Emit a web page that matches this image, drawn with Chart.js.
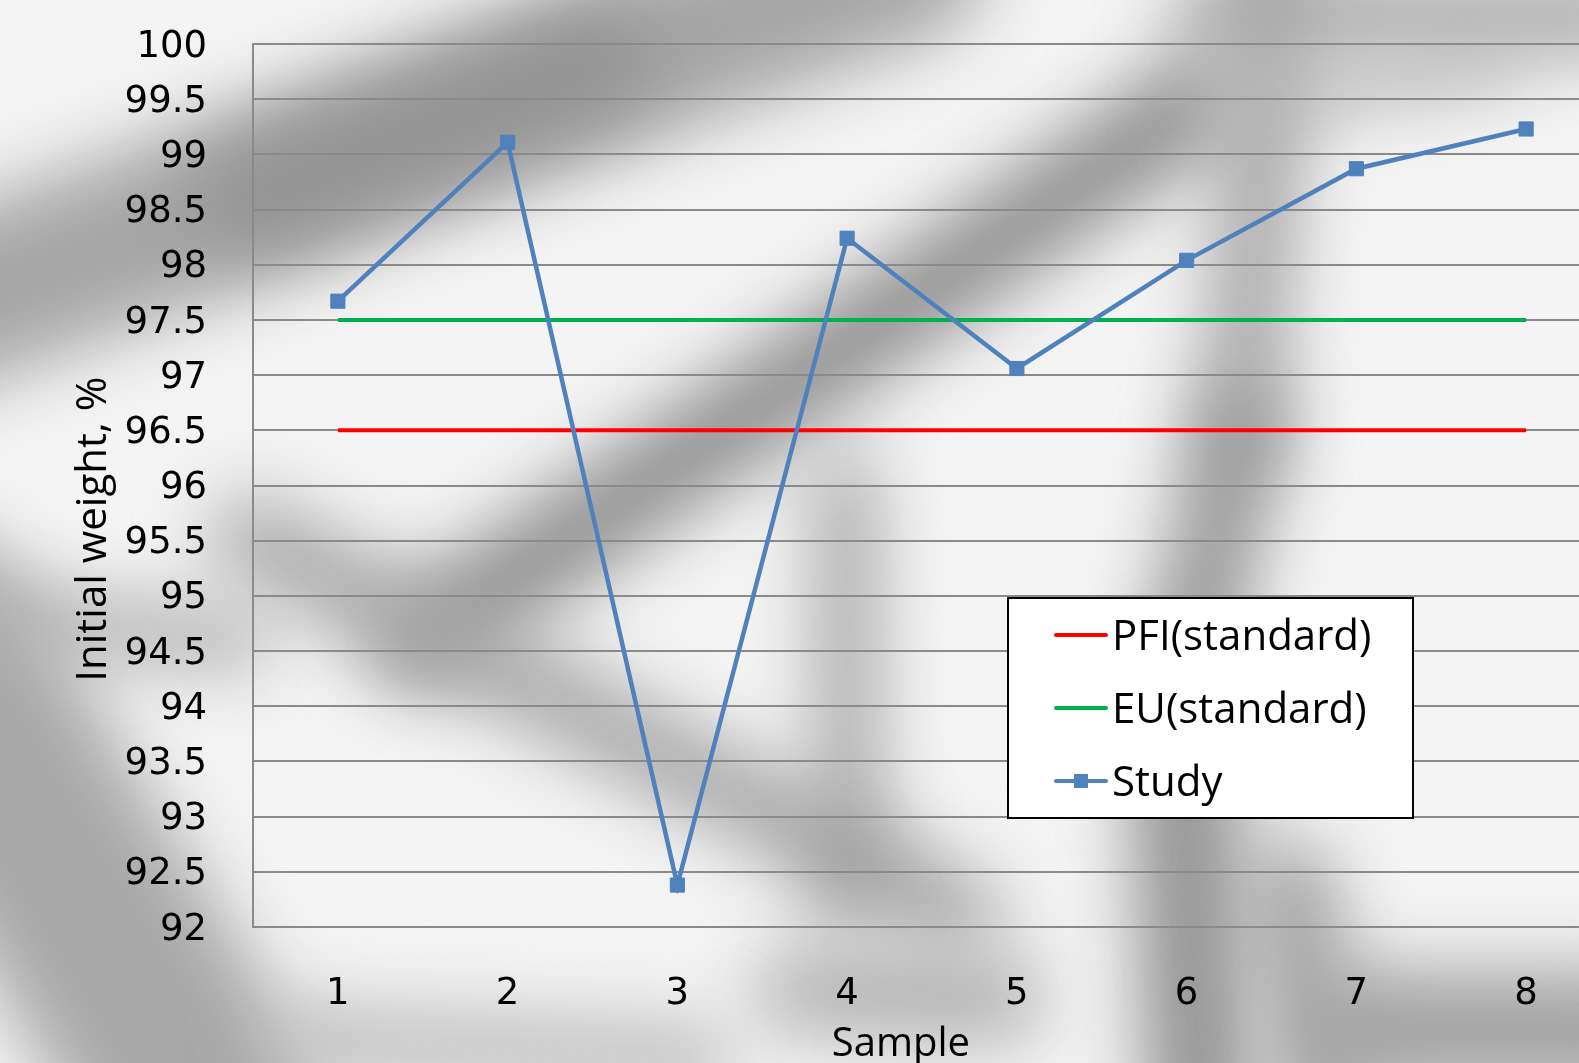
<!DOCTYPE html>
<html><head><meta charset="utf-8">
<script src="https://cdn.jsdelivr.net/npm/chart.js@4.4.1/dist/chart.umd.min.js"></script>
<style>
html,body{margin:0;padding:0;overflow:hidden;width:1579px;height:1063px;background:#eeeeee;}
#bg{position:absolute;left:0;top:0;}
#wrap{position:absolute;left:0;top:0;width:1640px;height:1063px;}
</style></head><body>
<canvas id="bg" width="1579" height="1063"></canvas>
<div id="wrap"><canvas id="c" width="1640" height="1063"></canvas></div>
<script>
// ---- data ----
const samples = ['1','2','3','4','5','6','7','8'];
const studyValues = [97.67, 99.11, 92.38, 98.24, 97.06, 98.04, 98.87, 99.23];
const pfiStandard = [96.5, 96.5, 96.5, 96.5, 96.5, 96.5, 96.5, 96.5];
const euStandard  = [97.5, 97.5, 97.5, 97.5, 97.5, 97.5, 97.5, 97.5];
const yTickValues = [92, 92.5, 93, 93.5, 94, 94.5, 95, 95.5, 96, 96.5, 97, 97.5, 98, 98.5, 99, 99.5, 100];
const seriesNames = ['PFI(standard)', 'EU(standard)', 'Study'];
const xTitle = 'Sample';
const yTitle = 'Initial weight, %';

// ---- blurred photographic-like background (decoration) ----
(function(){
  const g = document.getElementById('bg').getContext('2d');
  g.fillStyle = '#f4f4f4'; g.fillRect(0,0,1579,1063);
  g.filter = 'blur(36px)';
  function band(x1,y1,x2,y2,w,c){g.strokeStyle=c;g.lineWidth=w;g.lineCap='round';g.beginPath();g.moveTo(x1,y1);g.lineTo(x2,y2);g.stroke();}
  band(-120,330,900,-40,170,'#a6a6a6');
  band(250,200,600,60,110,'#939393');
  band(420,640,1200,100,95,'#909090');
  band(250,536,960,914,80,'#a6a6a6');
  band(1275,-40,1240,430,75,'#a2a2a2');
  band(1240,430,1180,700,85,'#939393');
  band(1180,700,1200,1100,105,'#909090');
  band(1290,880,1330,1100,80,'#9c9c9c');
  band(845,480,850,900,55,'#9c9c9c');
  band(-80,640,200,1100,230,'#a8a8a8');
  band(1360,1030,1620,1030,120,'#a2a2a2');
  band(1210,15,1620,15,75,'#a8a8a8');
  band(1210,110,1500,60,50,'#bababa');
  band(0,620,240,640,60,'#aeaeae');
  band(800,990,1000,1000,90,'#b2b2b2');
  band(300,1040,700,1060,70,'#bcbcbc');
})();

// ---- legend drawn inside plot ----
const boxLegend = {
  id: 'boxLegend',
  afterDraw(chart){
    const ctx = chart.ctx;
    const bx = 1008, by = 598, bw = 405, bh = 220;
    ctx.save();
    ctx.fillStyle = '#ffffff';
    ctx.fillRect(bx, by, bw, bh);
    ctx.strokeStyle = '#000000'; ctx.lineWidth = 2;
    ctx.strokeRect(bx, by, bw, bh);
    const rows = [635, 708, 781];
    [0,1,2].forEach((di, i) => {
      const ds = chart.data.datasets[di];
      const y = rows[i];
      ctx.strokeStyle = ds.borderColor; ctx.lineWidth = 4; ctx.lineCap = 'round';
      ctx.beginPath(); ctx.moveTo(1056, y); ctx.lineTo(1106, y); ctx.stroke();
      if (ds.pointRadius > 0) {
        ctx.fillStyle = ds.pointBackgroundColor;
        ctx.fillRect(1074, y - 7, 14, 14);
      }
      ctx.fillStyle = '#000';
      ctx.font = '42px "Open Sans"';
      ctx.textBaseline = 'middle';
      ctx.textAlign = 'left';
      ctx.fillText(ds.label, 1112, y + 3);
    });
    ctx.restore();
  }
};

const gridColor = '#8a8a8a';
new Chart(document.getElementById('c'), {
  type: 'line',
  data: {
    labels: samples,
    datasets: [
      { label: seriesNames[0], data: pfiStandard, borderColor: '#ff0000', borderWidth: 4, pointRadius: 0, order: 2 },
      { label: seriesNames[1], data: euStandard, borderColor: '#00b050', borderWidth: 4, pointRadius: 0, order: 1 },
      { label: seriesNames[2], data: studyValues, borderColor: '#4f81bd', backgroundColor: '#4f81bd',
        borderWidth: 4.5, pointStyle: 'rect', pointRadius: 10, pointBorderWidth: 1,
        pointBackgroundColor: '#4f81bd', pointBorderColor: '#4f81bd', tension: 0, order: 0 }
    ]
  },
  options: {
    responsive: false,
    animation: false,
    devicePixelRatio: 1,
    layout: { padding: { top: 44, left: 0, right: 29, bottom: 0 } },
    plugins: { legend: { display: false }, tooltip: { enabled: false }, title: { display: false } },
    scales: {
      x: {
        type: 'category',
        offset: true,
        grid: { display: false, drawTicks: false },
        border: { display: false },
        ticks: { color: '#000', font: { family: 'DejaVu Sans', size: 37 }, padding: 45, maxRotation: 0 },
        title: { display: true, text: xTitle + '      ', color: '#000',
                 font: { family: 'Open Sans', size: 40, lineHeight: 1.1 }, padding: { top: 0, bottom: -4 } },
        afterFit(s){ s.height = 136; s.paddingLeft = 0; s.paddingRight = 0; }
      },
      y: {
        min: 92, max: 100,
        grid: { color: gridColor, lineWidth: 2, drawTicks: false },
        border: { display: true, color: gridColor, width: 2 },
        afterBuildTicks(s){ s.ticks = yTickValues.map(v => ({ value: v })); },
        ticks: { color: '#000', font: { family: 'DejaVu Sans', size: 37 }, padding: 46, labelOffset: 3,
                 callback: v => String(v) },
        title: { display: true, text: yTitle + '        ', color: '#000',
                 font: { family: 'Open Sans', size: 42, lineHeight: 1.2 }, padding: { top: 69, bottom: 0 } },
        afterFit(s){ s.width = 253; s.paddingTop = 0; s.paddingBottom = 0; }
      }
    }
  },
  plugins: [boxLegend]
});
</script>
</body></html>
